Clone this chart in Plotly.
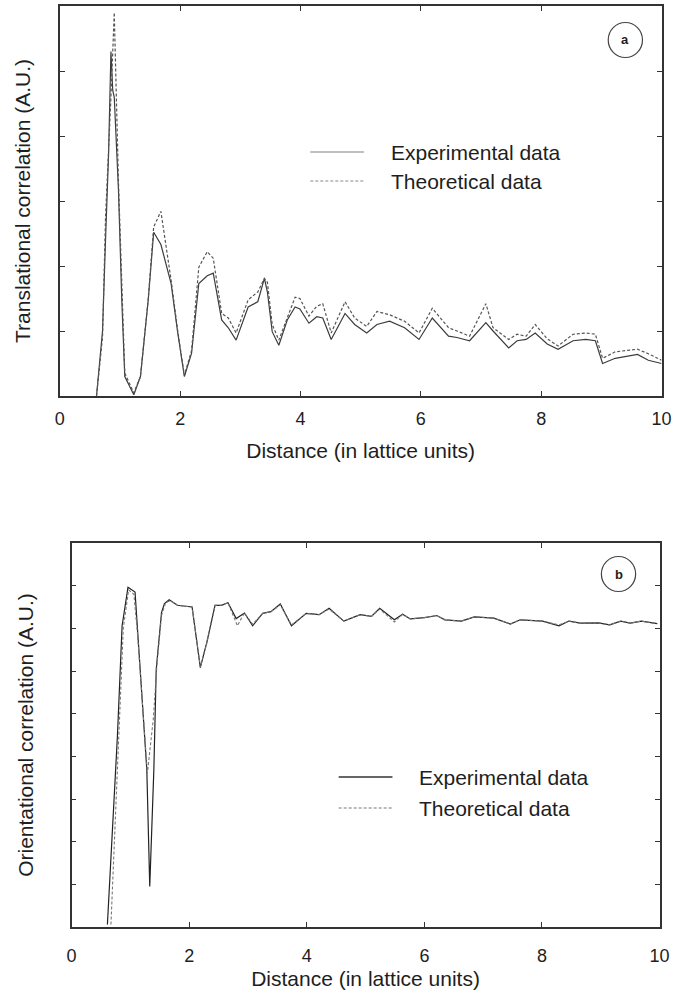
import plotly.graph_objects as go

W, H = 697, 999

# ---------------- Panel (a): translational correlation ----------------
a_x = [0.61, 0.71, 0.76, 0.81, 0.85, 0.88, 0.905, 0.975, 1.03, 1.08, 1.23, 1.34, 1.47,
       1.56, 1.68, 1.85, 1.96, 2.07, 2.19, 2.31, 2.45, 2.55, 2.69, 2.80, 2.93, 3.13,
       3.29, 3.40, 3.45, 3.53, 3.64, 3.78, 3.91, 3.99, 4.14, 4.27, 4.37, 4.51, 4.74,
       4.90, 5.10, 5.27, 5.48, 5.73, 5.97, 6.19, 6.46, 6.60, 6.81, 7.08, 7.20, 7.46,
       7.60, 7.75, 7.90, 8.10, 8.28, 8.53, 8.74, 8.90, 9.02, 9.23, 9.60, 9.78, 10.0]
a_exp = [0.0, 1.0, 2.4, 3.7, 5.3, 4.7, 4.6, 3.17, 1.48, 0.3, 0.02, 0.3, 1.48,
         2.52, 2.33, 1.73, 0.97, 0.3, 0.66, 1.73, 1.85, 1.89, 1.17, 1.05, 0.86, 1.37,
         1.45, 1.81, 1.6, 0.99, 0.78, 1.17, 1.37, 1.34, 1.12, 1.22, 1.2, 0.87, 1.27,
         1.1, 0.97, 1.1, 1.15, 1.05, 0.87, 1.2, 0.92, 0.9, 0.85, 1.13, 1.0, 0.74,
         0.85, 0.87, 0.97, 0.8, 0.72, 0.85, 0.87, 0.85, 0.5, 0.58, 0.64, 0.55, 0.5]
a_theo = [0.0, 0.9, 2.75, 3.7, 4.6, 5.3, 5.9, 3.3, 1.6, 0.35, 0.05, 0.3, 1.5,
          2.6, 2.84, 1.78, 1.0, 0.32, 0.7, 1.98, 2.22, 2.12, 1.27, 1.2, 0.97, 1.48,
          1.6, 1.81, 1.75, 1.1, 0.86, 1.2, 1.52, 1.5, 1.23, 1.38, 1.42, 0.97, 1.45,
          1.2, 1.07, 1.3, 1.25, 1.15, 0.97, 1.35, 1.05, 1.0, 0.92, 1.42, 1.05, 0.87,
          0.95, 0.92, 1.1, 0.88, 0.77, 0.95, 0.97, 0.95, 0.58, 0.68, 0.72, 0.65, 0.55]

# ---------------- Panel (b): orientational correlation ----------------
b_x_exp = [0.61, 0.78, 0.86, 0.96, 1.08, 1.12, 1.28, 1.33, 1.40, 1.44, 1.53, 1.58, 1.66,
           1.80, 2.05, 2.19, 2.30, 2.44, 2.55, 2.66, 2.80, 2.94, 3.08, 3.25, 3.39, 3.55,
           3.74, 3.99, 4.21, 4.38, 4.63, 4.91, 5.10, 5.24, 5.49, 5.63, 5.76, 6.00, 6.21,
           6.35, 6.63, 6.85, 7.18, 7.46, 7.63, 8.01, 8.29, 8.46, 8.65, 8.96, 9.15, 9.34,
           9.50, 9.69, 9.96]
b_exp = [0.06, 4.47, 7.06, 7.96, 7.85, 6.98, 3.69, 0.95, 3.7, 6.04, 7.37, 7.58, 7.67,
         7.54, 7.5, 6.08, 6.67, 7.54, 7.54, 7.6, 7.23, 7.36, 7.06, 7.35, 7.39, 7.57,
         7.06, 7.35, 7.32, 7.47, 7.17, 7.32, 7.28, 7.47, 7.2, 7.33, 7.22, 7.25, 7.3,
         7.2, 7.17, 7.27, 7.24, 7.1, 7.2, 7.17, 7.06, 7.17, 7.12, 7.13, 7.08, 7.17,
         7.12, 7.17, 7.11]
b_x_theo = [0.67, 0.80, 0.88, 0.97, 1.06, 1.12, 1.29, 1.39, 1.45, 1.53, 1.60, 1.68,
            1.80, 2.05, 2.19, 2.30, 2.44, 2.55, 2.66, 2.82, 2.94, 3.08, 3.25, 3.39, 3.55,
            3.74, 3.99, 4.21, 4.38, 4.63, 4.91, 5.10, 5.24, 5.49, 5.63, 5.76, 6.00, 6.21,
            6.35, 6.63, 6.85, 7.18, 7.46, 7.63, 8.01, 8.29, 8.46, 8.65, 8.96, 9.15, 9.34,
            9.50, 9.69, 9.96]
b_theo = [0.06, 4.2, 7.0, 7.9, 7.8, 6.9, 3.6, 4.87, 6.1, 7.3, 7.6, 7.65,
          7.54, 7.5, 6.1, 6.65, 7.54, 7.54, 7.6, 7.06, 7.36, 7.1, 7.35, 7.39, 7.55,
          7.08, 7.35, 7.32, 7.45, 7.17, 7.32, 7.28, 7.45, 7.15, 7.33, 7.22, 7.25, 7.3,
          7.2, 7.17, 7.27, 7.24, 7.1, 7.2, 7.17, 7.08, 7.17, 7.12, 7.13, 7.08, 7.17,
          7.12, 7.17, 7.11]

legend_labels = ["Experimental data", "Theoretical data"]
panel_labels = ["a", "b"]
x_title = "Distance (in lattice units)"
y_title_a = "Translational correlation (A.U.)"
y_title_b = "Orientational correlation (A.U.)"


def px(x):
    return x / W


def py(y):
    return 1 - y / H


FONT = "Liberation Sans, Arial, sans-serif"
AX = "#333333"
TXT = "#1e1e1e"

fig = go.Figure()
fig.add_trace(go.Scatter(x=a_x, y=a_exp, mode="lines", xaxis="x", yaxis="y",
                         line=dict(color="#3c3c3c", width=1.2), showlegend=False))
fig.add_trace(go.Scatter(x=a_x, y=a_theo, mode="lines", xaxis="x", yaxis="y",
                         line=dict(color="#555555", width=1.2, dash="3px,2px"), showlegend=False))
fig.add_trace(go.Scatter(x=b_x_exp, y=b_exp, mode="lines", xaxis="x2", yaxis="y2",
                         line=dict(color="#222222", width=1.2), showlegend=False))
fig.add_trace(go.Scatter(x=b_x_theo, y=b_theo, mode="lines", xaxis="x2", yaxis="y2",
                         line=dict(color="#777777", width=1.1, dash="3px,2px"), showlegend=False))

common_x = dict(range=[0, 10], tickvals=[0, 2, 4, 6, 8, 10], ticks="inside", ticklen=5,
                tickcolor=AX, showline=True, linecolor=AX, linewidth=1.5, mirror="ticks",
                showgrid=False, zeroline=False,
                tickfont=dict(family=FONT, size=18, color=TXT),
                title=dict(text=x_title, font=dict(family=FONT, size=21, color=TXT)))
common_y = dict(ticks="inside", ticklen=5, tickcolor=AX, showline=True, linecolor=AX,
                linewidth=1.5, mirror="ticks", showgrid=False, zeroline=False,
                showticklabels=False)

fig.update_layout(
    width=W, height=H, autosize=False,
    margin=dict(l=0, r=0, t=0, b=0),
    paper_bgcolor="white", plot_bgcolor="white",
    xaxis=dict(domain=[px(56), px(671)], anchor="y", ticklabelstandoff=6, **common_x),
    yaxis=dict(domain=[py(396), py(6)], anchor="x", range=[0, 6], tickvals=[1, 2, 3, 4, 5],
               title=dict(text=y_title_a, font=dict(family=FONT, size=21, color=TXT),
                          standoff=22),
               **common_y),
    xaxis2=dict(domain=[px(68), px(669)], anchor="y2", ticklabelstandoff=12, **common_x),
    yaxis2=dict(domain=[py(927), py(543)], anchor="x2", range=[0, 9],
                tickvals=[1, 2, 3, 4, 5, 6, 7, 8],
                title=dict(text=y_title_b, font=dict(family=FONT, size=21, color=TXT),
                           standoff=30),
                **common_y),
)
fig.layout.xaxis.title.standoff = 15
fig.layout.xaxis2.title.standoff = 6

shapes = []
annotations = []

# legends drawn as lines + text
legend_specs = [
    # (line x0, line x1, y solid, y dashed, text x, solid color, dashed color)
    (312, 367, 152, 181, 392, "#aaaaaa", "#888888"),
    (341, 396, 777, 808, 421, "#333333", "#777777"),
]
for (x0, x1, ys, yd, tx, cs, cd) in legend_specs:
    shapes.append(dict(type="line", xref="paper", yref="paper", x0=px(x0), x1=px(x1),
                       y0=py(ys), y1=py(ys), line=dict(color=cs, width=1.3)))
    shapes.append(dict(type="line", xref="paper", yref="paper", x0=px(x0), x1=px(x1),
                       y0=py(yd), y1=py(yd), line=dict(color=cd, width=1.2, dash="3px,2px")))
    for lab, yy in zip(legend_labels, [ys, yd]):
        annotations.append(dict(text=lab, xref="paper", yref="paper", x=px(tx), y=py(yy),
                                xanchor="left", yanchor="middle", showarrow=False,
                                font=dict(family=FONT, size=21, color=TXT)))

# panel circles
for lab, (cx, cy) in zip(panel_labels, [(634, 40), (627, 574)]):
    r = 17.5
    shapes.append(dict(type="circle", xref="paper", yref="paper",
                       x0=px(cx - r), x1=px(cx + r), y0=py(cy + r), y1=py(cy - r),
                       line=dict(color="#444", width=1.2)))
    annotations.append(dict(text="<b>%s</b>" % lab, xref="paper", yref="paper",
                            x=px(cx), y=py(cy), xanchor="center", yanchor="middle",
                            showarrow=False, font=dict(family=FONT, size=13, color=TXT)))

fig.update_layout(shapes=shapes, annotations=annotations)

fig.write_html("out.html")
